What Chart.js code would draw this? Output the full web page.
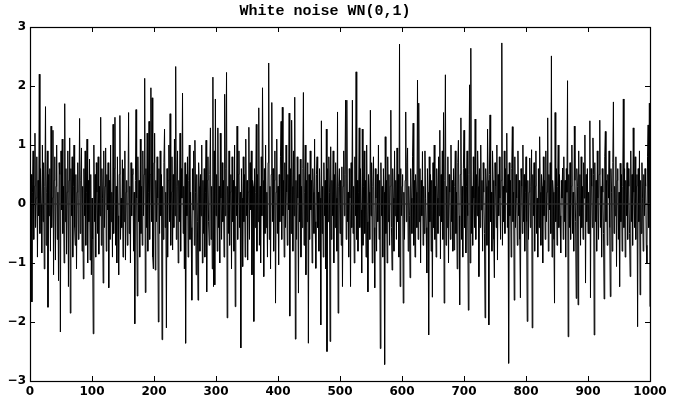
<!DOCTYPE html>
<html>
<head>
<meta charset="utf-8">
<script src="https://cdn.jsdelivr.net/npm/chart.js@4.4.1/dist/chart.umd.min.js"></script>
<style>
html,body{margin:0;padding:0;background:#fff;}
canvas{display:block;}
</style>
</head>
<body>
<canvas id="c" width="674" height="405"></canvas>
<script>
// ---- Data (values read/estimated from the reference picture) ----
const titleText = "White noise WN(0,1)";
const xTicks = [0,100,200,300,400,500,600,700,800,900,1000];
const yTicks = [-3,-2,-1,0,1,2,3];
const baselineX = [1, 1000];
const baselineY = [0, 0];

const seg0 = [
-0.3,0.5,-1.66,0.2,0.9,-0.6,0.3,1.2,-0.4,0.1,
0.8,-0.9,0.4,-0.2,2.2,-0.5,0.6,0.0,-0.83,1.0,
-0.3,0.7,-1.1,0.3,1.65,-0.7,0.2,0.9,-1.75,0.5,
-0.2,0.6,-0.8,1.32,-0.4,0.1,1.25,-1.2,0.4,0.8,
-0.95,0.3,1.0,-0.6,0.2,-1.3,0.7,0.5,-2.17,0.9,
-0.1,1.1,-0.5,0.3,-1.0,1.7,-0.3,0.6,-0.85,0.2,
0.9,-1.4,0.4,1.12,-1.85,0.6,-0.2,0.8,-0.9,0.3,
1.0,-0.4,-0.7,0.5,-1.1,0.2,0.7,-0.6,0.1,1.45,
-0.5,0.4,0.95,-0.8,0.3,-1.27,0.6,-0.2,0.9,-0.7,
0.2,1.1,-1.0,0.4,-0.3,0.76,-0.95,0.5,-1.2,0.1];
const seg1 = [
-0.6,-2.2,1.0,-0.3,0.5,-0.9,0.7,0.2,-0.5,0.8,
-0.85,0.3,-0.2,1.47,-0.7,0.6,0.1,-1.34,0.9,-0.4,
0.3,0.95,-0.8,0.5,-0.1,0.7,-1.42,0.4,-0.6,1.0,
-0.3,0.2,-0.9,1.35,-0.5,0.6,1.47,-0.7,0.3,-1.0,
0.8,-0.2,-1.2,0.5,1.5,-0.6,0.1,-0.4,0.75,-0.9,
0.6,-0.3,0.9,-0.95,0.2,0.4,-0.7,0.0,1.55,-0.5,
0.3,-1.0,0.7,-0.2,0.5,0.6,-0.8,0.2,-2.03,0.4,
1.6,0.1,-1.56,0.8,-0.3,0.4,-0.9,1.1,-0.5,0.3,
-0.7,0.9,-0.2,0.5,2.13,-1.5,0.6,-0.4,1.2,-0.8,
0.2,1.4,-0.6,0.5,1.97,-0.3,1.8,-0.9,-1.1,0.7];
const seg2 = [
1.2,-1.12,0.4,-0.3,0.8,0.1,-2.0,0.6,-0.5,0.9,
-0.2,0.5,-2.3,0.3,-0.6,0.7,1.27,-0.4,0.2,-2.1,
0.6,-0.9,0.4,1.0,-0.3,1.53,-0.7,0.2,0.8,-0.78,
0.5,-0.4,1.1,-0.2,2.33,-0.6,0.3,0.9,-1.0,0.4,
-0.3,1.2,-0.8,0.6,0.1,1.88,-0.5,0.3,-1.1,0.7,
-2.36,0.5,-0.2,0.8,-0.9,0.4,1.0,-0.6,0.2,-0.4,
-1.63,0.6,-0.1,0.9,-0.7,1.08,0.2,-1.2,0.5,-0.3,
-1.63,0.7,0.3,-0.8,0.5,-0.2,1.0,-1.0,0.4,-0.5,
0.6,-0.9,0.2,1.08,-1.49,0.4,0.8,-0.3,-0.7,0.5,
1.29,-0.6,0.3,-1.1,2.15,-1.4,0.9,-1.37,1.78,-0.2];
const seg3 = [
0.5,-0.8,1.29,-0.4,0.3,-1.0,1.2,0.1,-0.6,0.7,
-0.3,0.4,-0.9,1.86,-0.2,0.6,2.23,-1.93,0.3,-0.5,
0.9,-0.7,0.2,0.5,-1.1,0.8,-0.3,0.4,-0.8,1.0,
-1.74,0.3,-0.2,1.32,-0.6,0.5,0.9,-0.4,0.2,-2.44,
0.6,0.1,-1.06,0.8,-0.3,0.5,-0.9,1.1,-0.2,0.4,
-0.95,0.2,1.3,-0.6,0.7,-0.1,0.9,-1.2,0.4,0.3,
-1.99,0.6,-0.4,0.2,1.35,-0.8,0.5,-0.3,1.63,-0.7,
0.3,-1.0,0.8,-0.2,1.97,0.4,-1.23,0.6,-0.5,1.0,
-0.4,0.2,-0.9,0.7,2.39,-0.6,0.3,-1.1,0.5,1.72,
-0.3,0.6,-0.8,0.4,0.9,-1.68,0.2,1.1,-0.5,0.3];
const seg4 = [
-1.03,0.5,-0.3,0.8,1.4,-0.6,1.64,-0.2,0.4,-0.9,
0.7,-0.4,1.0,0.2,-0.7,0.5,-0.1,1.54,-1.9,0.6,
-0.5,1.42,0.3,-0.8,0.9,-0.2,1.81,-2.29,0.4,-0.6,
0.8,0.1,-1.51,0.5,-0.3,0.76,-0.9,0.3,-0.4,0.6,
1.89,-0.7,0.2,1.0,-1.2,0.4,-0.3,0.7,-2.36,0.5,
-0.6,0.9,-0.1,0.4,-1.0,0.6,0.2,-0.5,1.1,-0.3,
-1.09,0.5,0.8,-0.4,0.2,-0.8,0.6,0.1,-2.05,1.41,
-0.5,0.3,-0.9,0.7,-0.2,0.4,-1.1,1.27,-2.5,0.6,
-0.3,0.8,0.2,-2.33,0.97,-0.6,0.4,-0.2,0.9,-1.0,
0.5,-0.4,0.7,0.1,-0.8,1.56,-1.85,0.3,0.6,-0.5];
const seg5 = [
0.4,-0.7,0.63,-1.4,0.3,0.9,-0.2,0.5,1.76,-0.6,
1.76,-0.3,0.2,-0.9,0.6,0.1,-1.4,0.7,-0.4,1.76,
-0.5,0.3,-1.0,0.8,-0.2,2.24,-0.6,0.4,-0.8,0.2,
1.29,-0.4,0.6,-0.1,-1.17,1.27,-0.7,0.3,0.9,-0.5,
0.4,-0.9,1.0,-0.3,-1.49,0.5,0.2,-0.6,1.59,-0.2,
0.7,-1.0,0.3,0.8,-0.4,-1.42,0.6,0.1,-0.8,0.5,
-0.3,1.0,-0.6,0.4,-2.45,0.7,-0.2,0.3,-0.9,0.6,
0.2,-2.72,1.14,-0.5,0.4,-1.0,0.8,-0.3,0.5,-0.7,
0.3,1.59,-0.4,-1.12,0.6,0.1,-0.8,0.9,-0.2,0.4,
-0.6,0.95,-0.3,0.5,-0.9,2.71,-1.4,0.6,-0.2,0.3];
const seg6 = [
0.5,-1.68,0.2,-0.6,0.4,1.56,-0.3,0.7,0.95,-0.8,
0.3,-0.2,-1.25,0.6,0.1,-0.5,0.8,1.37,-0.7,0.4,
-0.9,0.5,0.2,-0.4,2.1,-0.6,1.71,-0.3,0.6,-1.0,
0.4,-0.2,0.89,-0.7,0.3,-0.5,0.9,0.1,-0.4,-1.17,
0.6,0.2,-2.22,0.8,-0.3,0.5,-0.8,0.4,-1.58,0.7,
-0.4,1.0,-0.6,0.3,-0.9,0.6,0.1,-0.5,0.8,-0.2,
1.25,-0.93,0.5,-0.3,0.9,-0.6,1.55,-1.68,0.4,2.19,
-0.7,0.3,-0.4,0.8,-1.0,0.5,0.2,-0.6,1.0,-0.3,
0.4,-0.8,0.6,-0.78,0.3,0.9,-0.5,0.2,-1.1,0.7,
1.08,-0.2,-1.71,0.5,1.46,-0.6,0.3,-0.9,0.6,1.25];
const seg7 = [
-0.4,0.6,-0.83,0.3,0.9,-0.2,-1.8,0.5,2.02,-1.0,
2.64,-0.5,0.3,-0.7,0.8,0.1,-0.4,1.44,-0.6,0.5,
-0.2,0.9,0.3,-1.23,0.6,-0.4,1.0,-0.1,0.4,-0.8,
0.7,0.2,-0.5,-1.93,0.6,0.3,-0.7,1.27,0.4,-2.05,
0.5,1.51,-0.3,0.2,-0.8,0.9,0.4,-0.6,-1.25,0.7,
0.3,-0.4,1.0,-0.95,0.5,-0.2,0.8,0.1,-0.6,0.4,
2.73,-0.7,0.3,-0.3,0.9,-0.5,0.6,0.2,1.2,-0.4,
0.5,-2.7,0.7,-0.2,0.4,-0.9,0.6,1.31,-0.3,0.2,
-1.63,0.8,-0.4,0.5,0.1,-0.7,0.9,-0.2,0.4,-0.6,
-1.59,0.6,0.3,-0.5,1.0,-0.3,0.5,-0.8,0.2,0.8];
const seg8 = [
-0.3,-1.99,0.4,-0.6,0.2,0.78,-0.4,0.3,0.92,-2.1,
0.5,-0.2,0.7,-0.8,0.3,0.9,-0.5,0.1,-0.9,0.6,
-0.4,1.14,0.2,-0.7,0.5,0.3,-1.0,0.8,-0.2,0.4,
-0.6,0.9,-0.3,0.2,1.46,-0.8,0.5,-0.1,0.7,-0.5,
2.51,-0.9,0.4,0.2,-0.6,-1.68,1.55,-0.3,0.6,-0.7,
0.3,1.0,-0.4,0.5,-0.2,-0.83,0.4,0.1,0.61,-0.6,
0.8,-0.3,0.4,-0.9,0.6,0.2,2.09,-2.25,0.5,-0.4,
0.7,-0.6,0.3,1.0,-0.5,0.2,-0.8,1.32,0.4,-0.3,
-1.6,0.6,0.3,-1.71,0.9,-0.2,0.5,-0.7,0.8,-0.4,
0.3,-0.6,0.7,0.1,1.17,-1.34,0.5,-0.3,0.6,-0.5];
const seg9 = [
0.2,-0.5,1.41,-1.59,0.6,0.3,-0.4,1.12,0.5,-2.22,
0.7,-0.3,0.4,-0.8,0.9,0.1,-0.6,0.5,1.42,-0.4,
0.3,-0.9,0.6,0.2,-0.5,-1.61,0.8,1.23,-0.3,0.4,
-0.7,0.5,0.1,0.9,-0.4,-1.57,0.6,0.2,-0.8,0.7,
1.73,-0.5,0.3,-0.2,0.8,-1.06,0.4,0.6,-0.6,0.2,
-1.4,0.69,-0.3,0.5,-0.8,0.3,1.78,-0.4,0.6,-0.9,
0.4,-0.2,0.7,-0.6,0.6,0.3,-0.5,-1.23,0.9,-0.3,
0.5,-0.7,1.29,0.2,-0.4,0.8,-0.6,0.3,0.5,-2.08,
0.6,-0.3,0.9,-1.54,0.4,-0.5,0.7,0.1,-0.8,0.5,
-0.2,0.6,0.3,-0.7,-1.0,0.8,1.34,-0.4,1.71,-1.74];

const noise = [].concat(seg0,seg1,seg2,seg3,seg4,seg5,seg6,seg7,seg8,seg9);
const noisePoints = noise.map((v,i)=>({x:i+1, y:v}));
const basePoints = baselineX.map((x,i)=>({x:x, y:baselineY[i]}));

// ---- Frame + inward tick marks (MATLAB style) ----
const frameTicks = {
  id:'frameTicks',
  afterDatasetsDraw(chart){
    const {ctx, chartArea:a, scales:{x,y}} = chart;
    ctx.save();
    ctx.strokeStyle = '#000';
    ctx.lineWidth = 1;
    const L = 5;
    ctx.beginPath();
    xTicks.forEach(v=>{
      const px = Math.round(x.getPixelForValue(v))+0.5;
      ctx.moveTo(px, a.bottom); ctx.lineTo(px, a.bottom-L);
      ctx.moveTo(px, a.top); ctx.lineTo(px, a.top+L);
    });
    yTicks.forEach(v=>{
      const py = Math.round(y.getPixelForValue(v))+0.5;
      ctx.moveTo(a.left, py); ctx.lineTo(a.left+L, py);
      ctx.moveTo(a.right, py); ctx.lineTo(a.right-L, py);
    });
    ctx.stroke();
    ctx.lineWidth = 1.2;
    ctx.strokeRect(Math.round(a.left)+0.5, Math.round(a.top)+0.5,
                   Math.round(a.right-a.left), Math.round(a.bottom-a.top));
    ctx.restore();
  }
};

const tickFont = {family:'"DejaVu Sans", sans-serif', size:12, weight:'bold'};

new Chart(document.getElementById('c'), {
  type:'line',
  data:{
    datasets:[
      {data:noisePoints, borderColor:'#000', borderWidth:1, pointRadius:0, tension:0, fill:false, order:2},
      {data:basePoints, borderColor:'rgba(40,40,40,0.85)', borderWidth:1.5, pointRadius:0, fill:false, order:1}
    ]
  },
  options:{
    responsive:false,
    devicePixelRatio:1,
    animation:false,
    events:[],
    layout:{padding:{left:0, right:24, top:0, bottom:0}},
    plugins:{
      legend:{display:false},
      tooltip:{enabled:false},
      title:{
        display:true,
        text:titleText,
        color:'#000',
        font:{family:'"Liberation Mono", "Courier New", monospace', size:15, weight:'bold', lineHeight:1.2},
        padding:{top:2, bottom:7}
      }
    },
    scales:{
      x:{
        type:'linear', min:0, max:1000,
        afterBuildTicks(s){ s.ticks = xTicks.map(v=>({value:v})); },
        afterFit(s){ s.height = 24; },
        grid:{display:false, drawTicks:false},
        border:{display:false},
        ticks:{color:'#000', font:tickFont, padding:4, maxRotation:0, autoSkip:false,
               callback:(v)=>String(v)}
      },
      y:{
        type:'linear', min:-3, max:3,
        afterBuildTicks(s){ s.ticks = yTicks.map(v=>({value:v})); },
        afterFit(s){ s.width = 30; },
        grid:{display:false, drawTicks:false},
        border:{display:false},
        ticks:{color:'#000', font:tickFont, padding:4, autoSkip:false,
               callback:(v)=> v<0 ? '\u2212'+Math.abs(v) : String(v)}
      }
    }
  },
  plugins:[frameTicks]
});
</script>
</body>
</html>
